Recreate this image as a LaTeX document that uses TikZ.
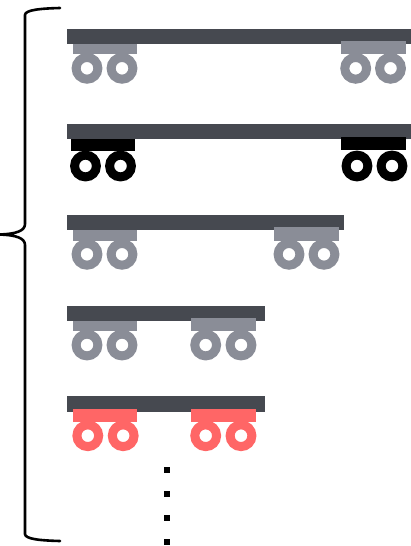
\documentclass[tikz,border=0pt]{standalone}
\definecolor{deckc}{HTML}{464950}
\definecolor{grayc}{HTML}{8A8D97}
\definecolor{redc}{HTML}{FF6666}
\tikzset{
  deck/.style={fill=deckc,draw=none},
  bogie/.style={fill=#1,draw=none},
  wheelring/.style={draw=#1,line width=9pt,fill=white},
  dotmark/.style={fill=black,draw=none},
  bracket/.style={draw=black,line width=2.6pt,line cap=round,line join=round}
}
% \wheelpair{colour}{bogie x0}{bogie y0}{bogie y1}{wheel x1}{wheel x2}{wheel y}
\newcommand{\wheelpair}[7]{
  \draw[wheelring=#1] (#5,#7) circle[radius=10.9];
  \draw[wheelring=#1] (#6,#7) circle[radius=10.9];
  \path[bogie=#1] (#2,#3) rectangle (#2+64.4,#4);
}
\begin{document}
\begin{tikzpicture}[x=1pt,y=-1pt]
\useasboundingbox (0,0) rectangle (411,546);
\clip (0,0) rectangle (411,546);
\fill[white] (0,0) rectangle (411,546);
% bracket
\draw[bracket] (60,8) .. controls (40,8.5) and (25,10) .. (25,15)
  -- (25,224) .. controls (25,231) and (16,234) .. (-1,234.5)
  .. controls (16,235) and (25,238) .. (25,245)
  -- (25,534) .. controls (25,539) and (40,540.5) .. (60,541);
% row 1
\path[deck] (66.5,29) rectangle (412,44.3);
\wheelpair{grayc}{72.7}{44}{54.3}{87}{122}{68.3}
\wheelpair{grayc}{341.3}{41}{54.3}{355.7}{390.5}{68.3}
% row 2
\path[deck] (66.5,124) rectangle (412,139);
\wheelpair{black}{71}{139}{151}{85.5}{120.5}{166}
\wheelpair{black}{341.3}{136.7}{150}{357}{392}{166}
% row 3
\path[deck] (66.5,215) rectangle (344.3,230.3);
\wheelpair{grayc}{72.7}{230.3}{240.7}{87}{122}{254.3}
\wheelpair{grayc}{274.3}{227.3}{240.7}{289}{324}{254.3}
% row 4
\path[deck] (66.5,305.7) rectangle (265,320.7);
\wheelpair{grayc}{72.7}{320.7}{331.3}{87}{122}{345}
\wheelpair{grayc}{191.3}{318.3}{331.3}{205.7}{241}{345}
% row 5
\path[deck] (66.5,396) rectangle (265,411.7);
\wheelpair{redc}{73}{409}{422.3}{87.8}{123.2}{435.7}
\wheelpair{redc}{191.3}{409}{422.3}{205.7}{241}{435.7}
% dots
\foreach \yy in {470,494,518,542}
  \path[dotmark] (163.5,\yy-3) rectangle (170,\yy+3);
\end{tikzpicture}
\end{document}
